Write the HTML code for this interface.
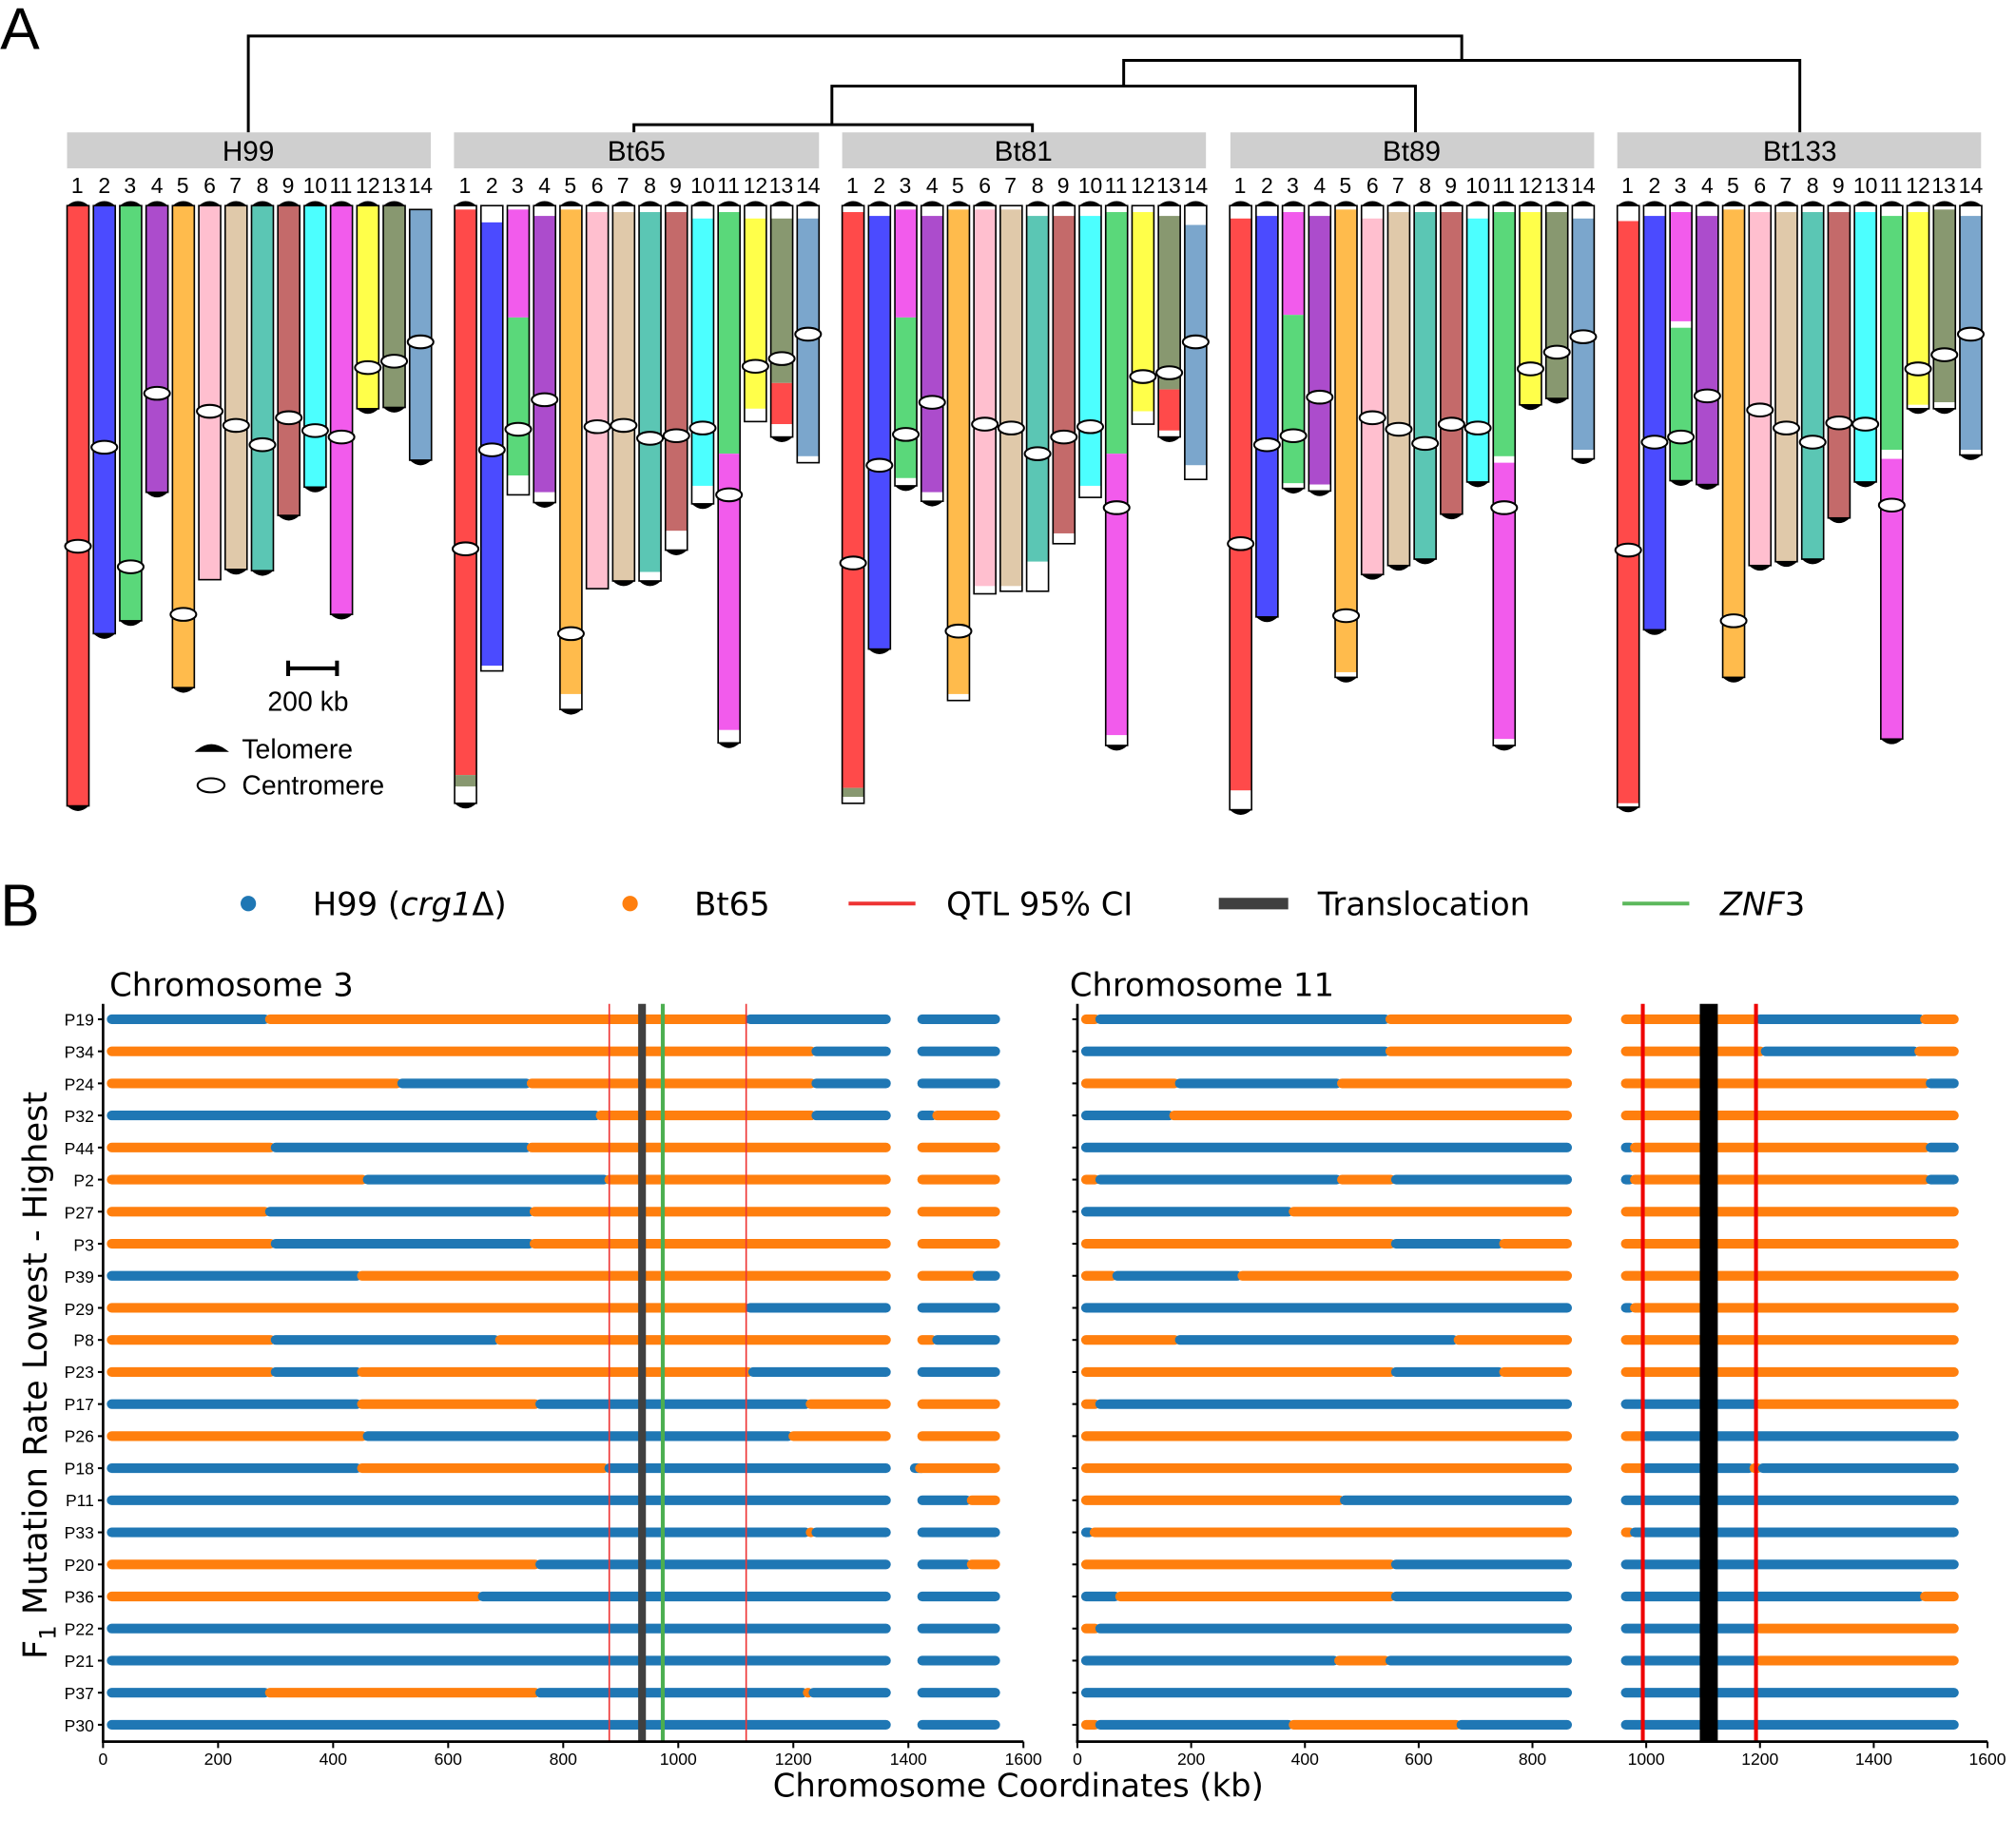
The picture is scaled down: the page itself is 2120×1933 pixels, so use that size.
<!DOCTYPE html>
<html><head><meta charset="utf-8"><style>
html,body{margin:0;padding:0;background:#fff;}
svg{display:block;font-family:"Liberation Sans",sans-serif;}
.dj{font-family:"DejaVu Sans","Liberation Sans",sans-serif;}
</style></head><body>
<svg id="s" width="2120" height="1933" viewBox="0 0 1568 1430" xmlns="http://www.w3.org/2000/svg">
<rect width="1568" height="1430" fill="#fff"/>
<text x="0" y="38" font-size="46">A</text>
<text x="0" y="720" font-size="46">B</text>
<g fill="none" stroke="#000" stroke-width="2.2">
<path d="M193 103V28H1137V47"/>
<path d="M874 67V47H1400V103"/>
<path d="M647 97V67H1101V103"/>
<path d="M493 103V97H803V103"/>
</g>
<g id="hdr" fill="#cfcfcf">
<rect x="52" y="103" width="283" height="28"/><rect x="353" y="103" width="284" height="28"/><rect x="655" y="103" width="283" height="28"/><rect x="957" y="103" width="283" height="28"/><rect x="1258" y="103" width="283" height="28"/>
</g>
<g font-size="22" text-anchor="middle">
<text x="193" y="125">H99</text><text x="495" y="125">Bt65</text><text x="796" y="125">Bt81</text><text x="1098" y="125">Bt89</text><text x="1400" y="125">Bt133</text>
</g>
<g font-size="17" text-anchor="middle">
<g><text x="60" y="150">1</text><text x="81" y="150">2</text><text x="101" y="150">3</text><text x="122" y="150">4</text><text x="142" y="150">5</text><text x="163" y="150">6</text><text x="183" y="150">7</text><text x="204" y="150">8</text><text x="224" y="150">9</text><text x="245" y="150">10</text><text x="265" y="150">11</text><text x="286" y="150">12</text><text x="306" y="150">13</text><text x="327" y="150">14</text></g>
<g transform="translate(301.5 0)"><text x="60" y="150">1</text><text x="81" y="150">2</text><text x="101" y="150">3</text><text x="122" y="150">4</text><text x="142" y="150">5</text><text x="163" y="150">6</text><text x="183" y="150">7</text><text x="204" y="150">8</text><text x="224" y="150">9</text><text x="245" y="150">10</text><text x="265" y="150">11</text><text x="286" y="150">12</text><text x="306" y="150">13</text><text x="327" y="150">14</text></g>
<g transform="translate(603 0)"><text x="60" y="150">1</text><text x="81" y="150">2</text><text x="101" y="150">3</text><text x="122" y="150">4</text><text x="142" y="150">5</text><text x="163" y="150">6</text><text x="183" y="150">7</text><text x="204" y="150">8</text><text x="224" y="150">9</text><text x="245" y="150">10</text><text x="265" y="150">11</text><text x="286" y="150">12</text><text x="306" y="150">13</text><text x="327" y="150">14</text></g>
<g transform="translate(904.5 0)"><text x="60" y="150">1</text><text x="81" y="150">2</text><text x="101" y="150">3</text><text x="122" y="150">4</text><text x="142" y="150">5</text><text x="163" y="150">6</text><text x="183" y="150">7</text><text x="204" y="150">8</text><text x="224" y="150">9</text><text x="245" y="150">10</text><text x="265" y="150">11</text><text x="286" y="150">12</text><text x="306" y="150">13</text><text x="327" y="150">14</text></g>
<g transform="translate(1206 0)"><text x="60" y="150">1</text><text x="81" y="150">2</text><text x="101" y="150">3</text><text x="122" y="150">4</text><text x="142" y="150">5</text><text x="163" y="150">6</text><text x="183" y="150">7</text><text x="204" y="150">8</text><text x="224" y="150">9</text><text x="245" y="150">10</text><text x="265" y="150">11</text><text x="286" y="150">12</text><text x="306" y="150">13</text><text x="327" y="150">14</text></g>
</g>
<g id="chroms"></g>
<path d="M224 520H262M224 514V526M262 514V526" stroke="#000" stroke-width="3"/>
<text x="208" y="553" font-size="21">200 kb</text>
<path d="M154 584 Q164 576 175 584 Z" fill="#000" stroke="#000" stroke-width="2"/>
<text x="188" y="590" font-size="21">Telomere</text>
<ellipse cx="164" cy="611" rx="10.5" ry="5.5" fill="#fff" stroke="#000" stroke-width="1.5"/>
<text x="188" y="618" font-size="21">Centromere</text>
<g class="dj">
<circle cx="193" cy="703" r="6" fill="#1f77b4"/>
<text x="243" y="712" font-size="25">H99 (<tspan font-style="italic">crg1</tspan>Δ)</text>
<circle cx="490" cy="703" r="6" fill="#ff7f0e"/>
<text x="540" y="712" font-size="25">Bt65</text>
<line x1="660" y1="703" x2="712" y2="703" stroke="#ee3333" stroke-width="3"/>
<text x="736" y="712" font-size="25">QTL 95% CI</text>
<line x1="948" y1="703" x2="1002" y2="703" stroke="#404040" stroke-width="9"/>
<text x="1025" y="712" font-size="25">Translocation</text>
<line x1="1262" y1="703" x2="1314" y2="703" stroke="#5cb85c" stroke-width="3"/>
<text x="1338" y="712" font-size="25" font-style="italic">ZNF<tspan font-style="normal">3</tspan></text>
<text x="85" y="775" font-size="25">Chromosome 3</text>
<text x="832" y="775" font-size="25">Chromosome 11</text>
<text transform="translate(36 1070) rotate(-90)" font-size="26" text-anchor="middle">F<tspan font-size="18" dy="7">1</tspan><tspan dy="-7"> Mutation Rate Lowest - Highest</tspan></text>
<text x="792" y="1398" font-size="25" text-anchor="middle">Chromosome Coordinates (kb)</text>
</g>
<g id="plots"></g>
<g font-size="13" text-anchor="end">
<text x="73" y="798">P19</text><text x="73" y="823">P34</text><text x="73" y="848">P24</text><text x="73" y="873">P32</text><text x="73" y="898">P44</text><text x="73" y="923">P2</text><text x="73" y="948">P27</text><text x="73" y="973">P3</text><text x="73" y="998">P39</text><text x="73" y="1023">P29</text><text x="73" y="1047">P8</text><text x="73" y="1072">P23</text><text x="73" y="1097">P17</text><text x="73" y="1122">P26</text><text x="73" y="1147">P18</text><text x="73" y="1172">P11</text><text x="73" y="1197">P33</text><text x="73" y="1222">P20</text><text x="73" y="1247">P36</text><text x="73" y="1272">P22</text><text x="73" y="1297">P21</text><text x="73" y="1322">P37</text><text x="73" y="1347">P30</text>
</g>
<g font-size="13" text-anchor="middle">
<text x="80" y="1373">0</text><text x="169.5" y="1373">200</text><text x="259" y="1373">400</text><text x="348.5" y="1373">600</text><text x="438" y="1373">800</text><text x="527.5" y="1373">1000</text><text x="617" y="1373">1200</text><text x="706.5" y="1373">1400</text><text x="796" y="1373">1600</text>
<text x="838" y="1373">0</text><text x="926.5" y="1373">200</text><text x="1015" y="1373">400</text><text x="1103.5" y="1373">600</text><text x="1192" y="1373">800</text><text x="1280.5" y="1373">1000</text><text x="1369" y="1373">1200</text><text x="1457.5" y="1373">1400</text><text x="1546" y="1373">1600</text>
</g>
</svg>
<script>
(function(){
var NS="http://www.w3.org/2000/svg";
function el(p,t,a){var e=document.createElementNS(NS,t);for(var k in a)e.setAttribute(k,a[k]);p.appendChild(e);return e;}
var C={r:"#ff4a4a",b:"#4b4bff",g:"#5ad87a",p:"#ac4ccc",o:"#ffbb4c",k:"#ffbfcf",t:"#e0c9aa",e:"#5bc6b4",n:"#c46a6a",c:"#4cffff",m:"#f25bec",y:"#ffff4a",v:"#889870",s:"#7ba6cc",w:"#ffffff"};
var P=[
[[160,"r:627",425],[160,"b:493",348],[160,"g:483",441],[160,"p:383",306],[160,"o:535",478],[160,"k:451",320,1,0],[160,"t:443",331],[160,"e:444",346],[160,"n:401",325],[160,"c:379",335],[160,"m:478",340],[160,"y:318",286],[160,"v:317",281],[163,"s:358",266,0,1]],
[[160,"w:163,r:603,v:612,w:625",427],[160,"w:173,b:518,w:522",350,0,0],[160,"w:163,m:247,g:370,w:385",334,0,0],[160,"w:168,p:383,w:391",311],[160,"w:163,o:540,w:552",493],[160,"w:165,k:458",332,1,0],[160,"w:165,t:452",331],[160,"w:165,e:445,w:452",341],[160,"w:165,n:413,w:428",339],[160,"w:170,c:378,w:392",333],[160,"w:165,g:353,m:568,w:578",385],[160,"w:170,y:318,w:328",285,1,0],[160,"w:170,v:298,r:330,w:340",279],[160,"w:170,s:355,w:360",260,1,0]],
[[160,"w:165,r:613,v:620,w:625",438,1,0],[160,"w:168,b:505",362],[160,"w:163,m:247,g:372,w:378",338],[160,"w:168,p:383,w:390",313],[160,"w:163,o:540,w:545",491,1,0],[160,"w:163,k:456,w:462",330,1,0],[160,"w:163,t:456,w:460",333,0,0],[160,"w:168,e:437,w:460",353,1,0],[160,"w:168,n:415,w:423",340,1,0],[160,"w:168,c:378,w:387",332,1,0],[160,"w:165,g:353,m:572,w:580",395],[160,"w:165,y:320,w:330",293,0,0],[160,"w:168,v:303,r:335,w:340",290],[160,"w:175,s:362,w:373",266,1,0]],
[[160,"w:170,r:615,w:630",423],[160,"w:168,b:480",346],[160,"w:165,m:245,g:376,w:380",339],[160,"w:168,p:377,w:382",309],[160,"w:163,o:523,w:527",479],[160,"w:170,k:447",325],[160,"w:165,t:440",334],[160,"w:165,e:435",345],[160,"w:165,n:400",330],[160,"w:170,c:375",333],[160,"w:165,g:355,w:360,m:575,w:580",395],[160,"w:165,y:315",287],[160,"w:165,v:310",274],[160,"w:170,s:350,w:357",262]],
[[160,"w:172,r:625,w:628",428],[160,"w:168,b:490",344],[160,"w:165,m:250,w:255,g:374",340],[160,"w:168,p:377",308],[160,"w:163,o:527",483],[160,"w:165,k:440",319],[160,"w:165,t:437",333],[160,"w:165,e:435",344],[160,"w:165,n:403",329],[160,"w:165,c:375",330],[160,"w:168,g:350,w:357,m:575",393],[160,"w:165,y:315,w:318",287],[160,"w:163,v:313,w:318",276],[160,"w:168,s:350,w:354",260]]
];
var G=document.getElementById("chroms");
var X0=[52,353.5,655,956.5,1258];
P.forEach(function(pan,pi){pan.forEach(function(ch,i){
 var x=X0[pi]+i*20.5,w=17,top=ch[0],segs=ch[1].split(","),y=top,bot=top;
 segs.forEach(function(s){var q=s.split(":"),e=+q[1];el(G,"rect",{x:x,y:y,width:w,height:e-y,fill:C[q[0]]});y=e;bot=e;});
 el(G,"rect",{x:x,y:top,width:w,height:bot-top,fill:"none",stroke:"#000","stroke-width":1.2});
 var tt=ch.length>3?ch[3]:1,bt=ch.length>4?ch[4]:1;
 if(tt)el(G,"path",{d:"M"+x+" "+top+" Q"+(x+w/2)+" "+(top-7)+" "+(x+w)+" "+top+"Z",fill:"#000"});
 if(bt)el(G,"path",{d:"M"+x+" "+bot+" Q"+(x+w/2)+" "+(bot+8)+" "+(x+w)+" "+bot+"Z",fill:"#000"});
 el(G,"ellipse",{cx:x+w/2,cy:ch[2],rx:10,ry:5,fill:"#fff",stroke:"#000","stroke-width":1.5});
});});
var B="#1f77b4",O="#ff7f0e";
var c3=[
["b290,o1125,b1370","b1560"],["o1240,b1370","b1560"],["o520,b745,o1240,b1370","b1560"],["b865,o1240,b1370","b1450,o1560"],
["o300,b745,o1370","o1560"],["o460,b880,o1370","o1560"],["o290,b750,o1370","o1560"],["o300,b750,o1370","o1560"],
["b450,o1370","o1520,b1560"],["o1125,b1370","b1560"],["o300,b690,o1370","o1450,b1560"],["o300,b450,o1130,b1370","b1560"],
["b450,o760,b1230,o1370","o1560"],["o460,b1200,o1370","o1560"],["b450,o880,b1370","b1420,o1560"],["b1370","b1510,o1560"],
["b1230,o1240,b1370","b1560"],["o760,b1370","b1510,o1560"],["o660,b1370","b1560"],["b1370","b1560"],["b1370","b1560"],
["b290,o760,b1225,o1235,b1370","b1560"],["b1370","b1560"]];
var c11=[
["o40,b550,o870","o1200,b1490,o1550"],["b550,o870","o1210,b1480,o1550"],["o180,b465,o870","o1500,b1550"],["b170,o870","o1550"],
["b870","b980,o1500,b1550"],["o40,b465,b465,o560,b870","b980,o1500,b1550"],["b380,o870","o1550"],["o560,b750,o870","o1550"],
["o70,b290,o870","o1550"],["b870","b980,o1550"],["o180,b670,o870","o1550"],["o560,b750,o870","o1550"],
["o40,b870","b1200,o1550"],["o870","o1000,b1550"],["o870","o1000,b1190,o1205,b1550"],["o470,b870","b1550"],
["b30,o870","o980,b1550"],["o560,b870","b1550"],["b75,o560,b870","b1490,o1550"],["o40,b870","b1200,o1550"],
["b460,o550,b870","b1200,o1550"],["b870","b1550"],["o40,b380,o675,b870","b1550"]];
var PL=document.getElementById("plots");
function plot(x0,sc,rows,starts,vlines){
 rows.forEach(function(r,i){var y=793+i*24.95;
  r.forEach(function(blk,bi){var s=starts[bi],segs=blk.split(","),first=true;
   segs.forEach(function(q){var col=q[0]=="b"?B:O,e=+q.slice(1);
    if(e>s){el(PL,"line",{x1:x0+s*sc+(first?4:0),x2:x0+e*sc-4,y1:y,y2:y,stroke:col,"stroke-width":7.5,"stroke-linecap":"round"});}
    first=false;s=e;});
  });
 });
 vlines.forEach(function(v){el(PL,"line",{x1:x0+v[0]*sc,x2:x0+v[0]*sc,y1:781,y2:1355,stroke:v[1],"stroke-width":v[2]});});
 el(PL,"line",{x1:x0,x2:x0,y1:781,y2:1356,stroke:"#000","stroke-width":2});
 el(PL,"line",{x1:x0-1,x2:x0+1600*sc,y1:1355,y2:1355,stroke:"#000","stroke-width":2});
 for(var k=0;k<=1600;k+=200)el(PL,"line",{x1:x0+k*sc,x2:x0+k*sc,y1:1355,y2:1360,stroke:"#000","stroke-width":1.5});
 for(var i=0;i<23;i++){var y=793+i*24.95;el(PL,"line",{x1:x0-4,x2:x0,y1:y,y2:y,stroke:"#000","stroke-width":1.5});}
}
plot(80,0.4475,c3,[6,1415],[[880,"#ee3333",1.2],[1118,"#ee3333",1.2],[937,"#404040",6],[973,"#4caf50",3]]);
plot(838,0.4425,c11,[6,955],[[994,"#ee0000",3],[1193,"#ee0000",3],[1110,"#000",14]]);
})();
</script>
</body></html>
